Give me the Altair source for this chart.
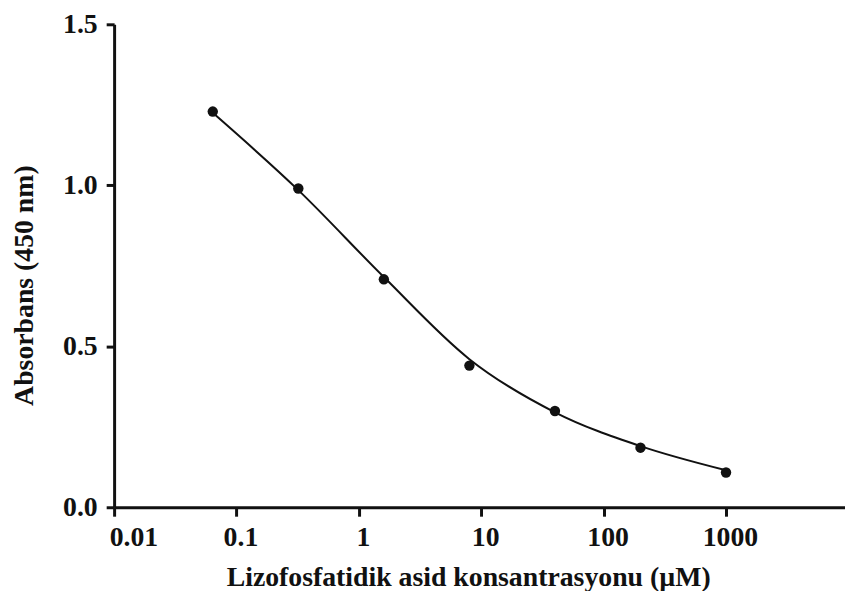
import altair as alt
import pandas as pd

# Measured points (concentration in µM, absorbance at 450 nm)
conc = [0.064, 0.32, 1.6, 8, 40, 200, 1000]
absorb = [1.229, 0.99, 0.708, 0.44, 0.299, 0.185, 0.108]

# Fitted curve at the same concentrations
curve_abs = [1.225, 0.985, 0.715, 0.46, 0.295, 0.19, 0.115]

x_ticks = [0.01, 0.1, 1, 10, 100, 1000]
y_ticks = [0.0, 0.5, 1.0, 1.5]

pts = pd.DataFrame({"c": conc, "a": absorb})
crv = pd.DataFrame({"c": conc, "a": curve_abs})

FONT = "Liberation Serif"

xscale = alt.Scale(type="log", domain=[0.01, 9380], nice=False)
yscale = alt.Scale(domain=[0, 1.5], nice=False)

xaxis = alt.Axis(
    values=x_ticks, format="~g", title="Lizofosfatidik asid konsantrasyonu (µM)",
    grid=False, domainColor="#111", domainWidth=3, tickColor="#111", tickWidth=3,
    tickSize=9, labelFont=FONT, labelFontSize=28, labelFontWeight="bold",
    labelColor="#111", labelPadding=8, labelOffset=4, labelFlush=True,
    labelFlushOffset=9, titleFont=FONT, titleFontSize=28, titleFontWeight="bold",
    titleColor="#111", titleX=357, titleY=57, titleBaseline="top",
)
yaxis = alt.Axis(
    values=y_ticks, format=".1f", title="Absorbans (450 nm)",
    grid=False, domainColor="#111", domainWidth=3, tickColor="#111", tickWidth=3,
    tickSize=8, labelFont=FONT, labelFontSize=28, labelFontWeight="bold",
    labelColor="#111", labelPadding=9, titleFont=FONT, titleFontSize=28,
    titleFontWeight="bold", titleColor="#111", titleX=-82, titleY=263,
    titleBaseline="alphabetic",
)

line = alt.Chart(crv).mark_line(color="#111", strokeWidth=2, interpolate="monotone").encode(
    x=alt.X("c:Q", scale=xscale, axis=xaxis),
    y=alt.Y("a:Q", scale=yscale, axis=yaxis),
)
points = alt.Chart(pts).mark_point(filled=True, color="#111", size=110, opacity=1).encode(
    x=alt.X("c:Q", scale=xscale),
    y=alt.Y("a:Q", scale=yscale),
)

chart = (line + points).properties(
    width=737, height=487,
    autosize=alt.AutoSizeParams(type="none"),
    padding={"left": 107, "top": 14, "right": 0, "bottom": 82},
    background="white",
).configure_view(strokeWidth=0)

chart.save("out.html", embed_options={"renderer": "svg", "actions": False})
